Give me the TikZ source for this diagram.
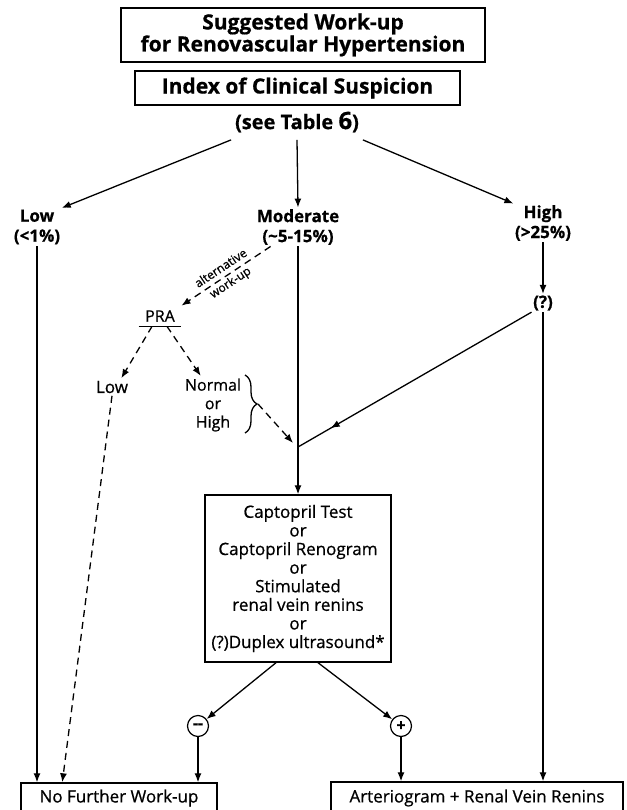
\documentclass[tikz,border=0pt]{standalone}
\usepackage{fontspec}
\setmainfont{Open Sans}
\newfontfamily\medfont{Open Sans}[FakeBold=0.7]
\newfontfamily\heavyfont{Open Sans}[BoldFont={Open Sans Bold}, BoldFeatures={FakeBold=0.6}]
\usetikzlibrary{arrows.meta,calc,decorations.pathreplacing,decorations.markings}
\begin{document}
\begin{tikzpicture}[x=1pt,y=-1pt,
  line width=1.3pt,
  arr/.style={-{Latex[length=9pt,width=7pt]}},
  dsh/.style={dash pattern=on 7pt off 5pt},
  box/.style={draw, line width=1.4pt, inner sep=0pt, align=center},
  bigb/.style={font=\heavyfont\bfseries\fontsize{21}{22}\selectfont},
  lab/.style={font=\heavyfont\bfseries\fontsize{17}{20}\selectfont, align=center, inner sep=1pt},
  txt/.style={font=\medfont\fontsize{17}{18.6}\selectfont, align=center},
  midarr/.style={postaction={decorate},decoration={markings,mark=at position #1 with {\arrow{Latex[length=9pt,width=7pt]}}}},
]
\useasboundingbox (0,0) rectangle (626,810);
\clip (0,0) rectangle (626,810);
% boxes and labels
\node[box, bigb, minimum width=364pt, minimum height=54pt] (title) at (303,35) {Suggested Work-up\\for Renovascular Hypertension};
\node[box, bigb, minimum width=325pt, minimum height=34pt] (idx) at (297.5,88) {Index of Clinical Suspicion};
\node[font=\heavyfont\bfseries\fontsize{20}{22}\selectfont, inner ysep=7pt] (see) at (297,122) {(see Table {\fontsize{24}{24}\selectfont 6})};
\node[lab] (low) at (37,227) {Low\\(<1\%)};
\node[lab] (mod) at (298,227) {Moderate\\(\textasciitilde 5-15\%)};
\node[lab] (high) at (543,223) {High\\(>25\%)};
\node[lab] (q) at (543,303) {(?)};
\node[font=\medfont\fontsize{16}{18}\selectfont, inner xsep=6pt, inner ysep=4pt] (pra) at (160,316) {PRA};
\node[txt, inner sep=2pt] (low2) at (112,387) {Low};
\node[txt, font=\medfont\fontsize{16}{18.5}\selectfont, inner sep=2pt] (norm) at (213,405) {Normal\\or\\High};
\coordinate (J) at (298,447);
\coordinate (bt) at (258,404);
\node[box, txt, minimum width=186pt, minimum height=167pt] (capt) at (298,578.5) {Captopril Test\\or\\Captopril Renogram\\or\\Stimulated\\renal vein renins\\or\\(?)Duplex ultrasound*};
\node[circle, draw, line width=1.2pt, inner sep=0pt, minimum size=21pt, font=\heavyfont\bfseries\fontsize{16}{16}\selectfont] (minus) at (198,726) {--};
\node[circle, draw, line width=1.2pt, inner sep=0pt, minimum size=21pt, font=\heavyfont\bfseries\fontsize{16}{16}\selectfont] (plus) at (401,726) {+};
\node[box, txt, minimum width=196pt, minimum height=30pt] (nofw) at (119,798) {No Further Work-up};
\node[box, txt, minimum width=292pt, minimum height=32pt] (art) at (477,798) {Arteriogram + Renal Vein Renins};
% connectors
\draw[arr] (see.south west) -- (low.north east);
\draw[arr] (see.south) -- (mod.north);
\draw[arr] (see.south east) -- (high.north west);
\draw[arr] (low.south) -- (low.south |- nofw.north);
\draw (mod.south) -- (J);
\draw[arr] (J) -- (capt.north);
\draw[arr] (high.south) -- (q.north);
\draw[midarr=0.86] (q.south west) -- (J);
\draw[arr] (q.south) -- (q.south |- art.north);
\draw[arr, dsh] ($(mod.south west)!0.18!(mod.south east)$) -- node[sloped, font=\medfont\fontsize{12}{17}\selectfont, align=center, inner sep=0pt] (alt) {alternative\\work-up} (pra.north east);
\draw (pra.south west) -- (pra.south east);
\draw[arr, dsh] ([xshift=-8pt]pra.south) -- ($(low2.north)!0.5!(low2.north east)$);
\draw[arr, dsh] ([xshift=7pt]pra.south) -- ($(norm.north west)!0.3!(norm.north east)$);
\draw[decorate, decoration={brace, amplitude=12pt}] (245,375) -- (245,433);
\draw[arr, dsh] (bt) -- ($(J)+(-5,-4)$);
\draw[arr, dsh] (low2.south) -- ($(nofw.north west)+(42,0)$);
\draw[arr] ($(capt.south)+(-22,0)$) -- (minus);
\draw[arr] ($(capt.south)+(20,0)$) -- (plus);
\draw[arr] (minus.south) -- (minus.south |- nofw.north);
\draw[arr] (plus.south) -- (plus.south |- art.north);
\end{tikzpicture}
\end{document}
